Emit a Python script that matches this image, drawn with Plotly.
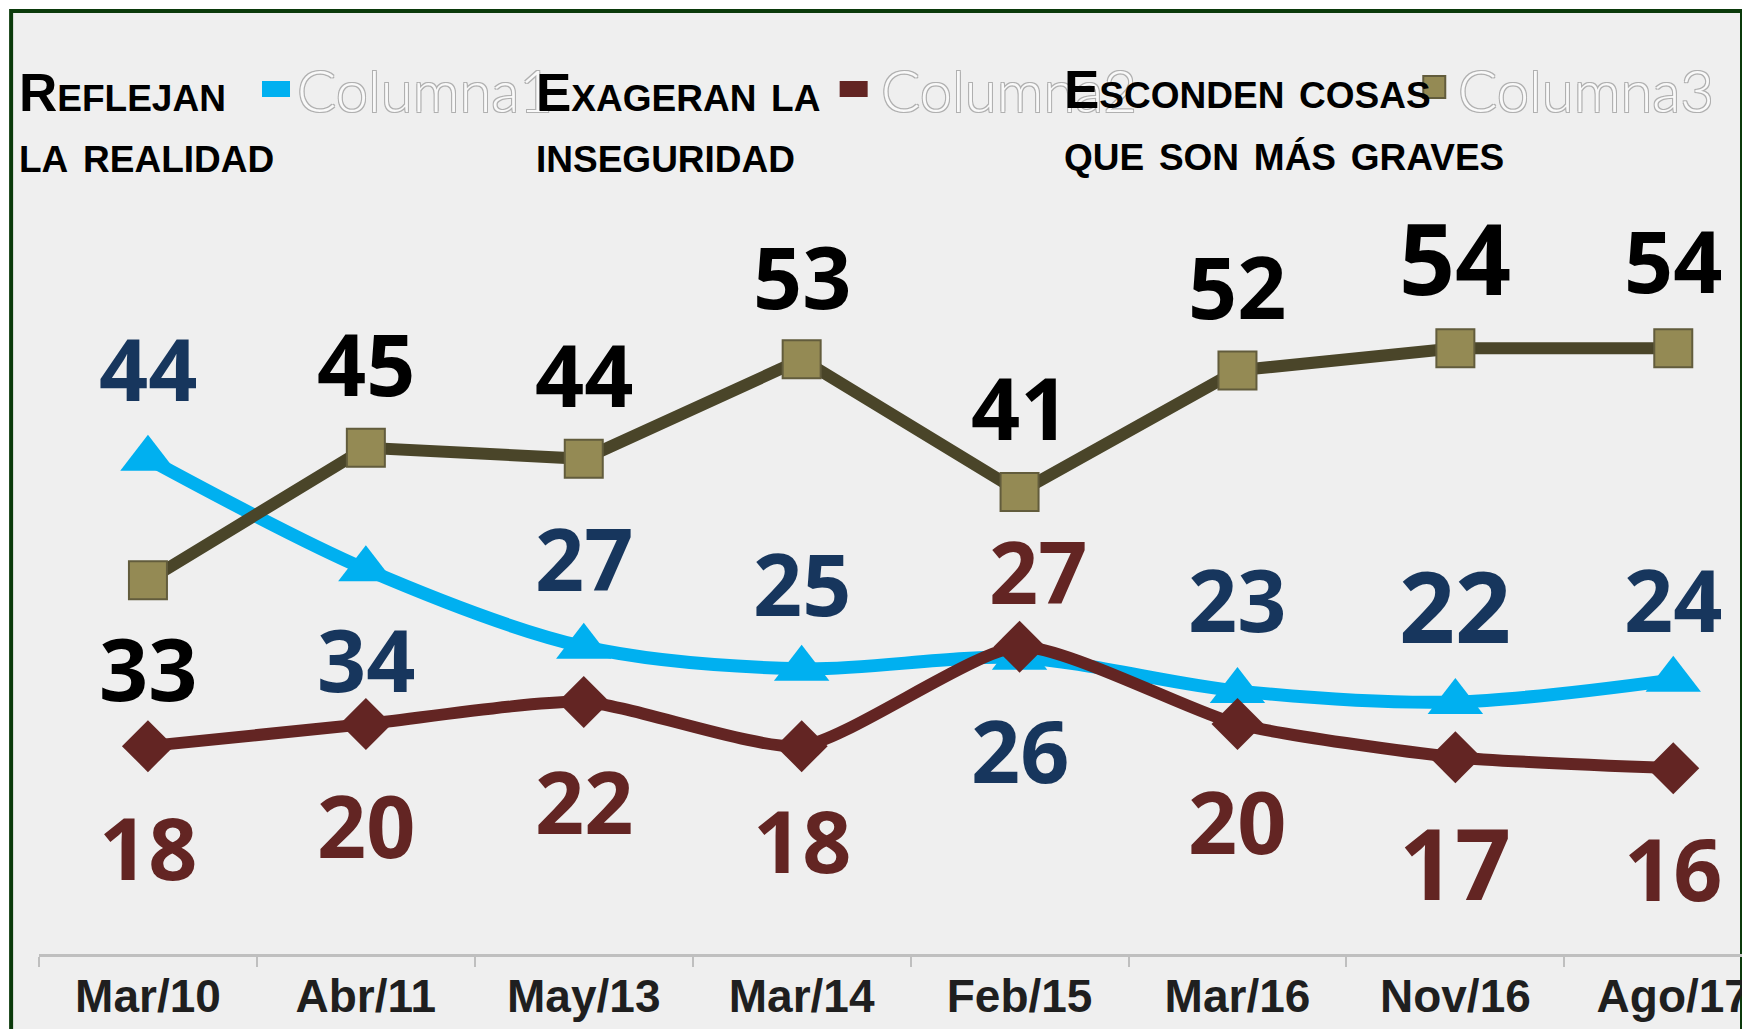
import plotly.graph_objects as go

# datos de la encuesta
periodos = ["Mar/10", "Abr/11", "May/13", "Mar/14", "Feb/15", "Mar/16", "Nov/16", "Ago/17"]
reflejan = [44, 34, 27, 25, 26, 23, 22, 24]
exageran = [18, 20, 22, 18, 27, 20, 17, 16]
esconden = [33, 45, 44, 53, 41, 52, 54, 54]

leyenda_l1 = ["Reflejan", "Exageran la", "Esconden cosas"]
leyenda_l2 = ["la realidad", "inseguridad", "que son más graves"]
columnas = ["Columna1", "Columna2", "Columna3"]

# geometria de la figura (pixeles); la pagina desplaza la figura 8 px
W, H = 1750, 1029
OFF = 8
ML, MR, MT, MB = 31, 8, 192, 83
PW, PH = W - ML - MR, H - MT - MB


def px(x):
    # x en pixeles de pantalla -> coordenada paper
    return (x - OFF - ML) / PW


def py(y):
    return (H - MB - (y - OFF)) / PH


AZUL = "#00B0F0"
ROJO = "#632523"
OLIVA = "#4A4529"
DORADO = "#948A54"

fig = go.Figure()

fig.add_trace(go.Scatter(
    x=periodos, y=reflejan, mode="lines+markers",
    line=dict(color=AZUL, width=13, shape="spline", smoothing=0.9),
    marker=dict(symbol="triangle-up", size=48, color=AZUL),
))
fig.add_trace(go.Scatter(
    x=periodos, y=exageran, mode="lines+markers",
    line=dict(color=ROJO, width=12, shape="spline", smoothing=0.6),
    marker=dict(symbol="diamond", size=40, color=ROJO),
))
fig.add_trace(go.Scatter(
    x=periodos, y=esconden, mode="lines+markers",
    line=dict(color=OLIVA, width=12),
    marker=dict(symbol="square", size=38, color=DORADO,
                line=dict(color="#625C3C", width=2)),
))

# etiquetas de datos: desplazamiento vertical en px
desp_azul = [91, -89, 89, 86, -92, 92, 97, 81]
desp_rojo = [-100, -100, -99, -93, 76, -96, -105, -99]
desp_oro = [-87, 85, 85, 84, 85, 85, 91, 89]
desp_x_rojo = [0, 0, 0, 0, 18, 0, 0, 0]
tam_etiqueta = [86, 86, 86, 86, 86, 86, 98, 86]

anns = []
for vals, desp, col, dx in [
    (reflejan, desp_azul, "#17365D", [0] * 8),
    (exageran, desp_rojo, ROJO, desp_x_rojo),
    (esconden, desp_oro, "#000000", [0] * 8),
]:
    for i, v in enumerate(vals):
        anns.append(dict(
            x=periodos[i], y=v, text=str(v), showarrow=False,
            xanchor="center", yanchor="middle", yshift=desp[i], xshift=dx[i],
            font=dict(family="Open Sans", size=tam_etiqueta[i], color=col, weight=700),
        ))

# leyenda dibujada a mano
fantasma_x = [296, 882, 1462]
texto_x = [17, 536, 1066]
linea1_y = [92, 92, 89]
linea2_y = [154, 154, 152]
sombra = "1px 1px 0 #b0b0b0, -1px -1px 0 #b0b0b0, 1px -1px 0 #b0b0b0, -1px 1px 0 #b0b0b0"
for i in range(3):
    anns.append(dict(
        xref="paper", yref="paper", x=px(fantasma_x[i]), y=py(90),
        text=columnas[i], showarrow=False, xanchor="left", yanchor="middle",
        font=dict(family="Lato", size=58, color="#f9f9f9", weight=300, shadow=sombra),
    ))
for i in range(3):
    anns.append(dict(
        xref="paper", yref="paper", x=px(texto_x[i]), y=py(linea1_y[i]),
        text=leyenda_l1[i], showarrow=False, xanchor="left", yanchor="middle",
        font=dict(family="Liberation Sans", size=53, color="#000000",
                  weight=700, variant="small-caps"),
    ))
    anns.append(dict(
        xref="paper", yref="paper", x=px(texto_x[i]), y=py(linea2_y[i]),
        text=leyenda_l2[i], showarrow=False, xanchor="left", yanchor="middle",
        font=dict(family="Liberation Sans", size=53, color="#000000",
                  weight=700, variant="small-caps"),
    ))

shapes = [
    dict(type="rect", xref="paper", yref="paper", layer="below",
         x0=px(11), x1=px(1749), y0=py(11), y1=py(1100),
         fillcolor="#EFEFEF", line=dict(color="#0B3A0B", width=4)),
    dict(type="rect", xref="paper", yref="paper", xsizemode="pixel", ysizemode="pixel",
         xanchor=px(277), yanchor=py(89), x0=-14, x1=14, y0=-8, y1=8,
         fillcolor=AZUL, line=dict(width=0)),
    dict(type="rect", xref="paper", yref="paper", xsizemode="pixel", ysizemode="pixel",
         xanchor=px(857), yanchor=py(89), x0=-14, x1=14, y0=-8, y1=8,
         fillcolor=ROJO, line=dict(width=0)),
    dict(type="rect", xref="paper", yref="paper", xsizemode="pixel", ysizemode="pixel",
         xanchor=px(1440), yanchor=py(87), x0=-11, x1=11, y0=-11, y1=11,
         fillcolor=DORADO, line=dict(color="#625C3C", width=2)),
]

fig.update_layout(
    width=W, height=H,
    margin=dict(l=ML, r=MR, t=MT, b=MB, pad=0),
    paper_bgcolor="white", plot_bgcolor="rgba(0,0,0,0)",
    showlegend=False,
    annotations=anns, shapes=shapes,
    xaxis=dict(
        type="category", range=[-0.5, 7.32], showgrid=False, zeroline=False,
        showline=True, linecolor="#BFBFBF", linewidth=3,
        ticks="outside", tickson="boundaries", ticklen=10, tickwidth=2, tickcolor="#BFBFBF",
        tickfont=dict(family="Liberation Sans", size=46, color="#1F1F1F", weight=700),
    ),
    yaxis=dict(range=[-0.81, 67.42], visible=False, showgrid=False, zeroline=False),
)

fig.write_html("out.html")
